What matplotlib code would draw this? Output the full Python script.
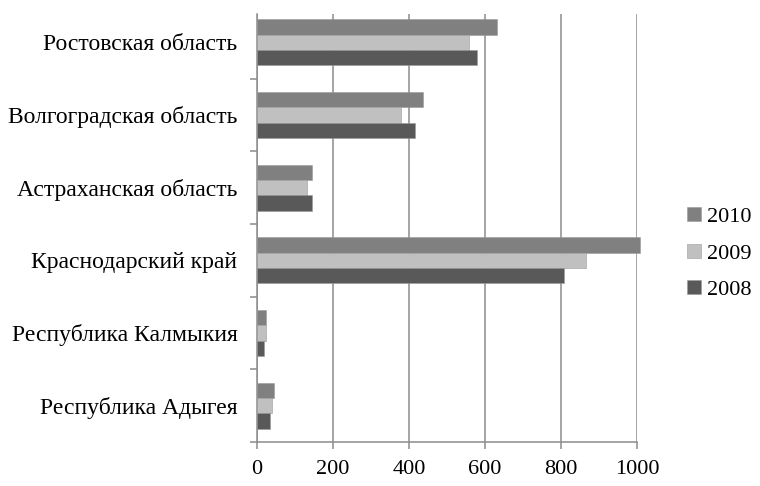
import matplotlib.pyplot as plt
import numpy as np

regions = ["Ростовская область", "Волгоградская область", "Астраханская область",
           "Краснодарский край", "Республика Калмыкия", "Республика Адыгея"]
years = ["2010", "2009", "2008"]
v2010 = [632, 436, 146, 1008, 23, 44]
v2009 = [559, 379, 133, 866, 23, 39]
v2008 = [580, 416, 146, 809, 18, 34]
colors = ["#808080", "#c0c0c0", "#595959"]

plt.rcParams["font.family"] = ["Liberation Serif", "DejaVu Serif"]

fig = plt.figure(figsize=(7.6, 4.86), dpi=100)
ax = fig.add_axes([0.338, 0.0905, 0.5, 0.8805])

n = len(regions)
pos = np.arange(n)[::-1]  # top to bottom
h = 0.21
for i, (vals, lab, c) in enumerate(zip([v2010, v2009, v2008], years, colors)):
    ax.barh(pos + (1 - i) * h, vals, height=h, color=c, label=lab,
            edgecolor="#9a9a9a", linewidth=0.4, clip_on=False, zorder=3)

ax.set_xticks(np.arange(0, 1001, 200))
ax.tick_params(axis="x", labelsize=16, length=5, color="#8c8c8c", width=1.1, pad=8)

ax.set_yticks(np.arange(-0.5, n, 1.0))
ax.set_yticklabels([])
ax.tick_params(axis="y", which="major", length=5, color="#8c8c8c", width=1.1)
ax.set_yticks(pos, minor=True)
ax.set_yticklabels(regions, minor=True, fontsize=17)
ax.tick_params(axis="y", which="minor", length=0, pad=14)

ax.set_xlim(0, 1000)
ax.set_ylim(-0.5, 5.387)

ax.xaxis.grid(True, color="#8c8c8c", linewidth=1.1)
ax.set_axisbelow(True)
for s in ["top", "right"]:
    ax.spines[s].set_visible(False)
for s in ["left", "bottom"]:
    ax.spines[s].set_color("#8c8c8c")
    ax.spines[s].set_linewidth(1.1)

ax.legend(loc="center left", bbox_to_anchor=(1.08, 0.44), frameon=False,
          fontsize=16, handlelength=0.6, handleheight=0.6, handletextpad=0.3,
          labelspacing=0.75)

fig.savefig("out.png", dpi=100)
